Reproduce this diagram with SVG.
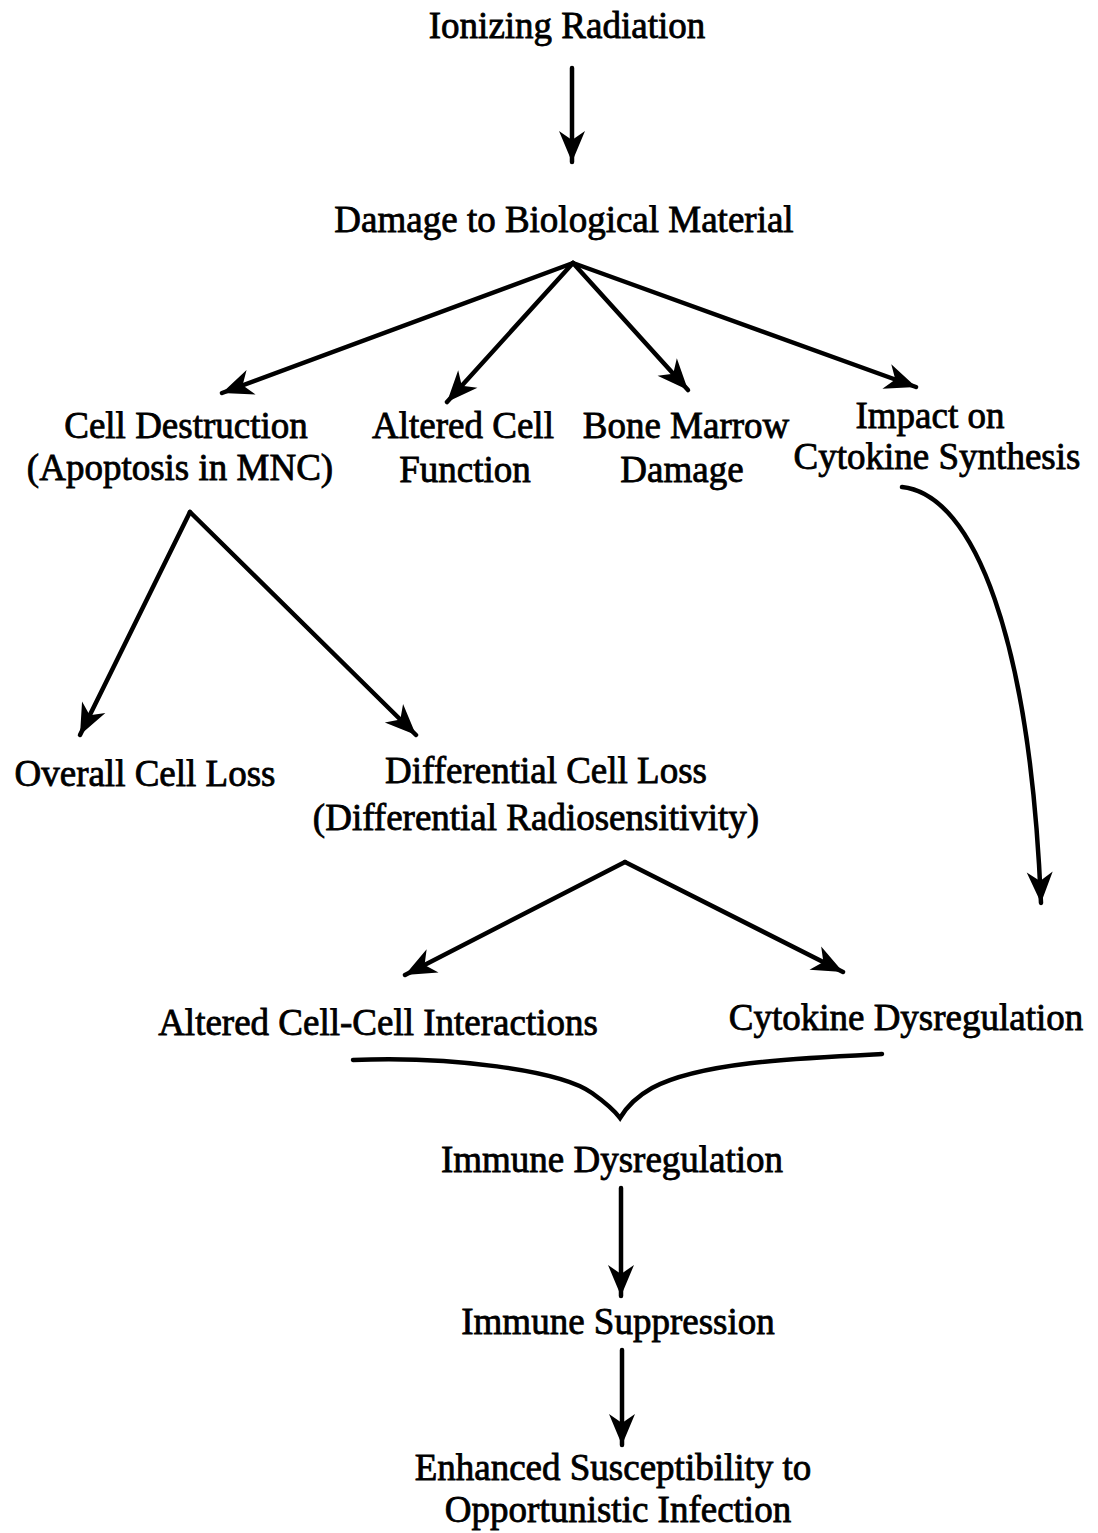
<svg xmlns="http://www.w3.org/2000/svg" width="1098" height="1533" viewBox="0 0 1098 1533">
<style>
text{font-family:"Liberation Serif","Times New Roman",serif;font-size:37px;fill:#000;stroke:#000;stroke-width:0.8;text-anchor:middle}
.c{fill:none;stroke:#000;stroke-width:4.5;stroke-linecap:round}
.a{marker-end:url(#ah)}
</style>
<defs>
<marker id="ah" markerUnits="userSpaceOnUse" viewBox="-34 -16 36 32" markerWidth="36" markerHeight="32" refX="0" refY="0" orient="auto">
<path d="M0,0 L-31,-13 L-22,0 L-31,13 Z" fill="#000"/>
</marker>
</defs>
<rect width="1098" height="1533" fill="#fff"/>
<g id="n1"><text x="567" y="38">Ionizing Radiation</text></g>
<g id="n2"><text x="564" y="232">Damage to Biological Material</text></g>
<g id="n3"><text x="186" y="438">Cell Destruction</text><text x="180" y="480">(Apoptosis in MNC)</text></g>
<g id="n4"><text x="463" y="438">Altered Cell</text><text x="465" y="482">Function</text></g>
<g id="n5"><text x="686" y="438">Bone Marrow</text><text x="682" y="482">Damage</text></g>
<g id="n6"><text x="930" y="428">Impact on</text><text x="937" y="469">Cytokine Synthesis</text></g>
<g id="n7"><text x="145" y="786">Overall Cell Loss</text></g>
<g id="n8"><text x="546" y="783">Differential Cell Loss</text><text x="536" y="830">(Differential Radiosensitivity)</text></g>
<g id="n9"><text x="378" y="1035">Altered Cell-Cell Interactions</text></g>
<g id="n10"><text x="906" y="1030">Cytokine Dysregulation</text></g>
<g id="n11"><text x="612" y="1172">Immune Dysregulation</text></g>
<g id="n12"><text x="618" y="1334">Immune Suppression</text></g>
<g id="n13"><text x="613" y="1480">Enhanced Susceptibility to</text><text x="618" y="1522">Opportunistic Infection</text></g>
<g id="connectors">
<line class="c a" x1="572" y1="68" x2="572" y2="162"/>
<line class="c a" x1="573" y1="263" x2="222" y2="393"/>
<line class="c a" x1="573" y1="263" x2="447" y2="402"/>
<line class="c a" x1="573" y1="263" x2="688" y2="390"/>
<line class="c a" x1="573" y1="263" x2="916" y2="387"/>
<line class="c a" x1="190" y1="512" x2="80" y2="735"/>
<line class="c a" x1="190" y1="512" x2="416" y2="735"/>
<path class="c a" d="M902,487 C975,495 1030,640 1041,903"/>
<line class="c a" x1="625" y1="862" x2="405" y2="975"/>
<line class="c a" x1="625" y1="862" x2="843" y2="972"/>
<path class="c" d="M353,1060 C450,1056 560,1070 592,1093 C606,1103 614,1110 620,1118 C626,1108 634,1098 652,1088 C700,1062 800,1058 882,1054"/>
<line class="c a" x1="621" y1="1188" x2="621" y2="1296"/>
<line class="c a" x1="622" y1="1350" x2="622" y2="1445"/>
</g>
</svg>
